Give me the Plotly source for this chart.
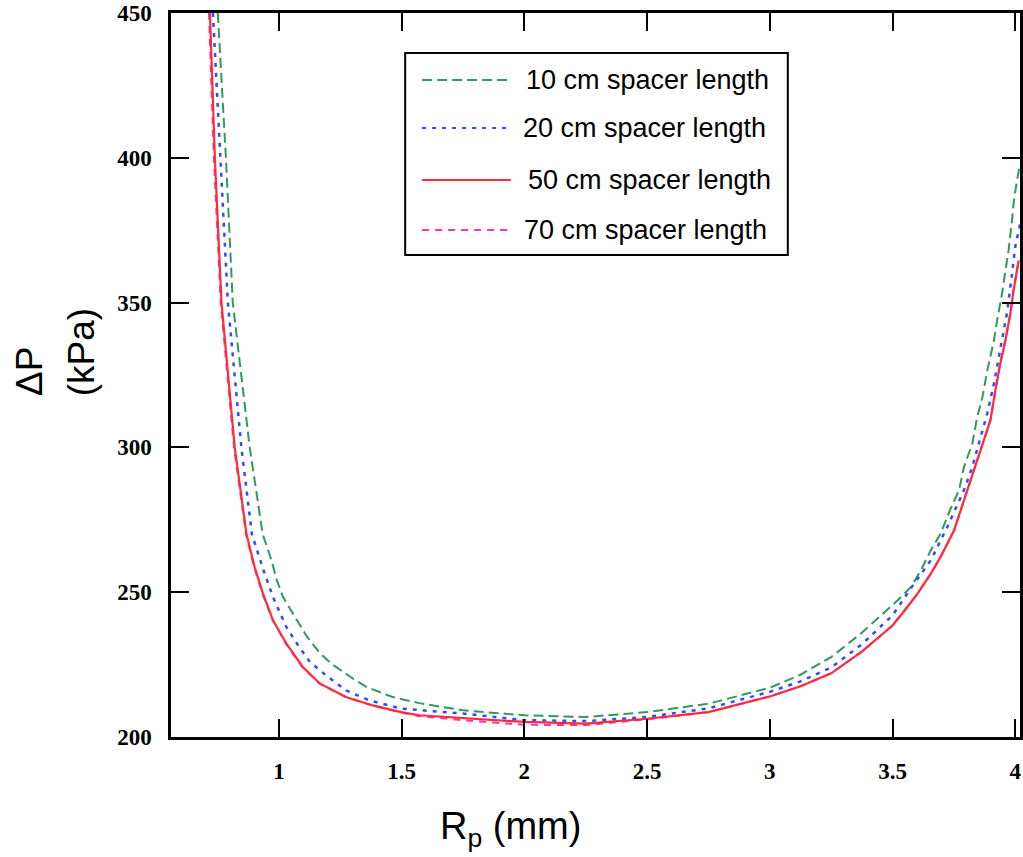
import plotly.graph_objects as go

# Pressure drop across the packed column vs. particle radius, for four spacer lengths
rp_10 = [0.751, 0.784, 0.812, 0.881, 0.934, 0.970, 0.989, 1.017, 1.078, 1.111, 1.168, 1.214,
         1.301, 1.356, 1.463, 1.572, 1.75, 2.0, 2.25, 2.5, 2.75, 3.0, 3.125, 3.25, 3.375, 3.521,
         3.575, 3.616, 3.656, 3.696, 3.737, 3.771, 3.791, 3.825, 3.845, 3.865, 3.886, 3.913,
         3.926, 3.946, 3.96, 3.973, 3.987, 3.993, 4.007, 4.02]
dp_10 = [450, 400, 350, 300, 270, 261, 254.7, 248.3, 239.7, 235.1, 228.8, 225.3,
         220.2, 217.3, 213.8, 211.7, 209.2, 207.5, 206.9, 208.6, 211.5, 217, 221.5, 227.6, 236, 247.2,
         251.8, 257.6, 264.5, 270.2, 278.9, 285.2, 293.2, 301.3, 310.5, 316.8, 326.5, 336.9,
         343.8, 353.1, 361.1, 368.1, 378.4, 384.2, 392.2, 398]

rp_20 = [0.731, 0.762, 0.792, 0.847, 0.89, 0.942, 0.976, 1.030, 1.078, 1.126, 1.192, 1.273,
         1.367, 1.498, 1.75, 2.0, 2.25, 2.5, 2.75, 3.0, 3.125, 3.25, 3.375, 3.5, 3.588, 3.656,
         3.723, 3.791, 3.825, 3.859, 3.886, 3.913, 3.939, 3.966, 3.987, 4.0, 4.02]
dp_20 = [450, 400, 350, 300, 270, 256.4, 248.3, 238, 231.7, 225.9, 221.3, 216.1,
         212.7, 209.8, 208.1, 205.8, 205.5, 206.9, 209.9, 215.6, 219.2, 224, 232, 242, 253, 261,
         272.5, 285.2, 293.2, 303.6, 311.7, 322, 333.5, 346.2, 360, 369.2, 377.3]

rp_50 = [0.719, 0.739, 0.766, 0.82, 0.868, 0.901, 0.935, 0.976, 1.030, 1.097, 1.168, 1.273,
         1.382, 1.498, 1.572, 1.75, 2.0, 2.25, 2.5, 2.75, 3.0, 3.125, 3.25, 3.375, 3.5, 3.548,
         3.602, 3.656, 3.696, 3.751, 3.791, 3.832, 3.859, 3.899, 3.919, 3.939, 3.96, 3.98,
         3.993, 4.014]
dp_50 = [450, 400, 350, 300, 270, 258.7, 249.5, 240.3, 232.3, 224.2, 218.4, 213.8,
         210.9, 208.6, 207.5, 206.5, 205.2, 204.6, 206.3, 208.6, 214, 217.5, 222, 229.5, 238.5, 243.5,
         249.5, 256.4, 262.2, 271.4, 281.7, 292.1, 299, 309.4, 319.7, 329, 337, 346.2,
         354.2, 364.6]

rp_70 = [0.715, 0.735, 0.763, 0.817, 0.866, 0.899, 0.933, 0.975, 1.028, 1.095, 1.166, 1.272,
         1.381, 1.498, 1.572, 1.75, 2.0, 2.25, 2.5, 2.75, 3.0, 3.125, 3.25, 3.375, 3.5, 3.548,
         3.602, 3.656, 3.696, 3.751, 3.791, 3.832, 3.859, 3.899, 3.919, 3.939, 3.96, 3.98,
         3.993, 4.014]
dp_70 = [450, 400, 350, 300, 270, 258.7, 249.5, 240.3, 232.3, 224.2, 218.4, 213.8,
         210.9, 208.4, 207.2, 205.8, 204.2, 204.1, 206.1, 208.6, 214, 217.5, 222, 229.5, 238.5, 243.5,
         249.5, 256.4, 262.2, 271.4, 281.7, 292.1, 299, 309.4, 319.7, 329, 337, 346.2,
         354.2, 364.6]

series_names = ["10 cm spacer length", "20 cm spacer length",
                "50 cm spacer length", "70 cm spacer length"]

x_ticks = [1, 1.5, 2, 2.5, 3, 3.5, 4]
x_ticktext = ["1", "1.5", "2", "2.5", "3", "3.5", "4"]
y_ticks = [200, 250, 300, 350, 400, 450]

# Styles per series
colors = ["#2f9a5c", "#2b4dff", "#ff2a3a", "#ff33b4"]
dashes = ["10px,5px", "4px,6px", "solid", "7px,6px"]
widths = [2, 2.5, 2.2, 2]

W, H = 1023, 857
ML, MR, MT, MB = 171, 0, 13, 120
PW, PH = W - ML - MR, H - MT - MB


def px_x(p):
    return (p - ML) / PW


def px_y(p):
    return (H - MB - p) / PH


fig = go.Figure()
data = [(rp_10, dp_10), (rp_20, dp_20), (rp_50, dp_50), (rp_70, dp_70)]
# draw 70 cm first so the solid 50 cm line sits on top
for i in [3, 0, 1, 2]:
    xs, ys = data[i]
    fig.add_trace(go.Scatter(
        x=xs, y=ys, mode="lines", name=series_names[i], showlegend=False,
        line=dict(color=colors[i], width=widths[i], dash=dashes[i]),
    ))

axis_common = dict(
    showline=True, linewidth=2.5, linecolor="black", mirror="ticks",
    ticks="inside", ticklen=18, tickwidth=2, tickcolor="black",
    showgrid=False, zeroline=False,
    tickfont=dict(family="Liberation Serif", size=23, color="black", weight="bold"),
    ticklabelstandoff=12,
)
fig.update_xaxes(range=[0.5603, 4.0194], tickvals=x_ticks, ticktext=x_ticktext, **axis_common)
fig.update_yaxes(range=[200, 450], tickvals=y_ticks, **axis_common)

annotations = []
shapes = []

# Legend box
shapes.append(dict(type="rect", xref="paper", yref="paper",
                   x0=px_x(406), x1=px_x(790), y0=px_y(255), y1=px_y(53),
                   line=dict(color="black", width=2), fillcolor="white", layer="above"))
legend_rows = [80, 128, 180, 230]
text_left = [525, 522, 527, 523]
for i, yy in enumerate(legend_rows):
    shapes.append(dict(type="line", xref="paper", yref="paper",
                       x0=px_x(423), x1=px_x(512), y0=px_y(yy), y1=px_y(yy),
                       line=dict(color=colors[i], width=2, dash=dashes[i]), layer="above"))
    annotations.append(dict(text=series_names[i], xref="paper", yref="paper",
                            x=px_x(text_left[i]), y=px_y(yy), xanchor="left", yanchor="middle",
                            showarrow=False,
                            font=dict(family="Liberation Sans", size=27, color="black")))

# Axis titles
annotations.append(dict(text="ΔP", xref="paper", yref="paper", x=px_x(29), y=px_y(398),
                        xanchor="center", yanchor="bottom", textangle=-90, showarrow=False,
                        font=dict(family="Liberation Sans", size=37, color="black")))
annotations.append(dict(text="(kPa)", xref="paper", yref="paper", x=px_x(81), y=px_y(398),
                        xanchor="center", yanchor="bottom", textangle=-90, showarrow=False,
                        font=dict(family="Liberation Sans", size=37, color="black")))
annotations.append(dict(text="R<sub>p</sub> (mm)", xref="paper", yref="paper",
                        x=px_x(512), y=px_y(829), xanchor="center", yanchor="middle",
                        showarrow=False,
                        font=dict(family="Liberation Sans", size=38, color="black")))

fig.update_layout(
    width=W, height=H,
    margin=dict(l=ML, r=MR, t=MT, b=MB),
    paper_bgcolor="white", plot_bgcolor="white",
    shapes=shapes, annotations=annotations,
    showlegend=False,
)

fig.write_html("out.html")
